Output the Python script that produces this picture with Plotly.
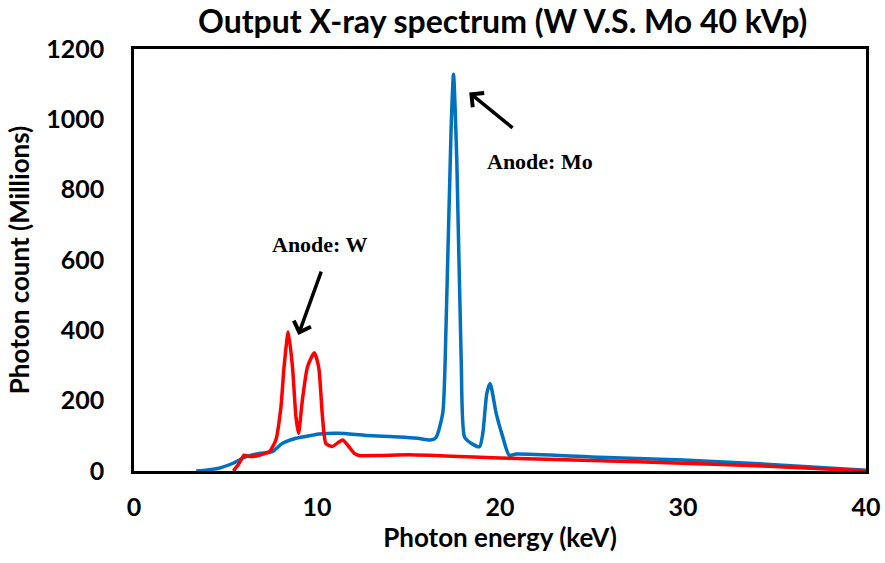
import plotly.graph_objects as go

# Mo anode spectrum (blue)
mo_energy = [3.4, 4.0, 4.65, 5.4, 6.1, 6.84, 7.56, 8.1, 8.85, 9.76, 10.1, 11.2, 12.7, 14.5, 15.5,
             16.2, 16.5, 16.87, 17.05, 17.33, 17.46, 17.64, 17.88, 18.06, 18.42, 18.88, 19.06,
             19.28, 19.46, 19.79, 20.15, 20.5, 20.9, 25, 30, 35, 40]
mo_count = [0, 3, 8, 22, 40, 50, 55, 78, 93, 102, 105, 107, 101, 97, 93,
            88, 95, 164, 409, 977, 1128, 882, 315, 97, 79, 69, 107,
            221, 249, 164, 97, 45, 48, 40, 31, 18, 2]

# W anode spectrum (red)
w_energy = [5.43, 5.75, 6.02, 6.3, 6.84, 7.4, 7.75, 8.03, 8.2, 8.43, 8.66, 8.85, 8.99, 9.2, 9.48,
            9.85, 10.09, 10.3, 10.49, 10.85, 11.13, 11.4, 11.67, 12.04, 12.3, 13.4, 15, 17, 20,
            25, 30, 35, 40]
w_count = [0, 22, 45, 41, 45, 55, 88, 182, 296, 395, 296, 154, 107, 201, 296,
           336, 296, 154, 78, 70, 80, 88, 74, 50, 44, 44, 46, 43, 37,
           30, 22, 13, 0]

x_ticks = [0, 10, 20, 30, 40]
y_ticks = [0, 200, 400, 600, 800, 1000, 1200]

font_main = "Lato"

fig = go.Figure()
fig.add_trace(go.Scatter(x=mo_energy, y=mo_count, mode="lines",
                         line=dict(color="#0070C0", width=3.5, shape="spline", smoothing=0.6),
                         name="Mo", showlegend=False))
fig.add_trace(go.Scatter(x=w_energy, y=w_count, mode="lines",
                         line=dict(color="#FF0000", width=3.5, shape="spline", smoothing=0.6),
                         name="W", showlegend=False))

# arrows
fig.add_annotation(x=8.98, y=387, ax=10.26, ay=571, axref="x", ayref="y", xref="x", yref="y",
                   showarrow=True, arrowhead=4, arrowwidth=3.5, arrowsize=1, arrowcolor="black", text="")
fig.add_annotation(x=18.32, y=1076, ax=20.77, ay=972, axref="x", ayref="y", xref="x", yref="y",
                   showarrow=True, arrowhead=4, arrowwidth=3.5, arrowsize=1, arrowcolor="black", text="")
# labels
fig.add_annotation(x=10.16, y=643, xref="x", yref="y", text="<b>Anode: W</b>", showarrow=False,
                   font=dict(family="Liberation Serif", size=22, color="black"))
fig.add_annotation(x=22.19, y=879, xref="x", yref="y", text="<b>Anode: Mo</b>", showarrow=False,
                   font=dict(family="Liberation Serif", size=22, color="black"))

fig.update_layout(
    width=885, height=563,
    margin=dict(l=134, r=19, t=49, b=92),
    paper_bgcolor="white", plot_bgcolor="white",
    title=dict(text="Output X-ray spectrum (W V.S. Mo 40 kVp)", x=0.568, xanchor="center",
               y=0.962, yanchor="middle", automargin=False,
               font=dict(family=font_main, size=32, color="black", weight="bold")),
    font=dict(family=font_main, color="black"),
)
fig.update_xaxes(range=[0, 40], tickvals=x_ticks, showgrid=False, zeroline=False,
                 showline=True, linecolor="black", linewidth=2.5, mirror=True,
                 ticks="", ticklabelstandoff=12, automargin=False,
                 tickfont=dict(family=font_main, size=25, color="black", weight="bold"),
                 title=dict(text="Photon energy (keV)", standoff=8,
                            font=dict(family=font_main, size=26, color="black", weight="bold")))
fig.update_yaxes(range=[0, 1200], tickvals=y_ticks, showgrid=False, zeroline=False,
                 showline=True, linecolor="black", linewidth=2.5, mirror=True,
                 ticks="", ticklabelstandoff=22, automargin=False,
                 tickfont=dict(family=font_main, size=25, color="black", weight="bold"),
                 title=dict(text="Photon count (Millions)", standoff=10,
                            font=dict(family=font_main, size=26, color="black", weight="bold")))

fig.write_html("out.html")
